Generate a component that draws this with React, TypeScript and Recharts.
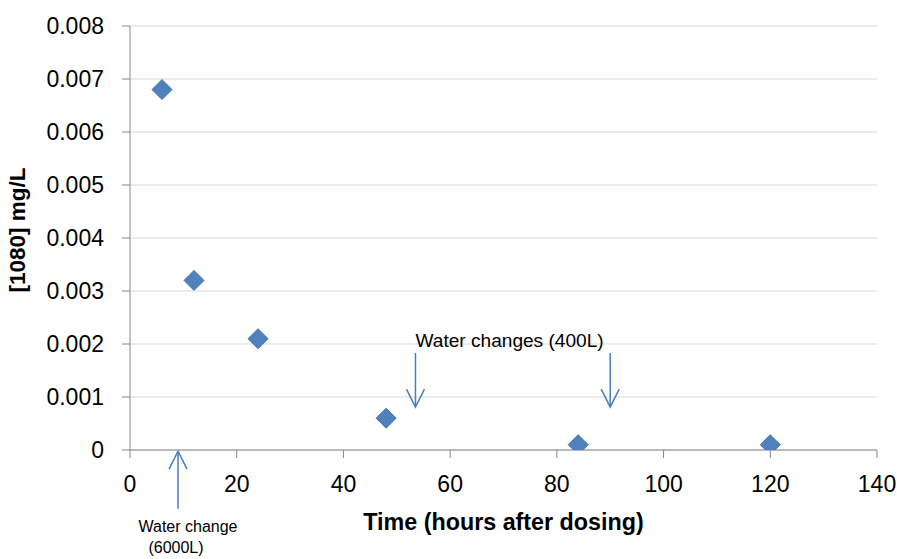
import React from 'react';
import { ScatterChart, Scatter, XAxis, YAxis, CartesianGrid, ReferenceLine, Label } from 'recharts';

const hours = [6, 12, 24, 48, 84, 120];
const concentration = [0.0068, 0.0032, 0.0021, 0.0006, 0.0001, 0.0001];
const xTicks = [0, 20, 40, 60, 80, 100, 120, 140];
const yTicks = [0, 0.001, 0.002, 0.003, 0.004, 0.005, 0.006, 0.007, 0.008];

const bigChangeHour = 9;
const bigChangeLabel = ['Water change', '(6000L)'];
const smallChangeHours = [53.5, 90];
const smallChangeLabel = 'Water changes (400L)';

const data = hours.map((h, i) => ({ x: h, y: concentration[i] }));

const FONT = '"Liberation Sans", Arial, sans-serif';
const ARROW = '#4A7EBB';
const AXIS = '#868686';

const Diamond = (props: any) => {
  const { cx, cy } = props;
  if (cx == null || cy == null) return null;
  const r = 10;
  return (
    <polygon
      points={`${cx},${cy - r} ${cx + r},${cy} ${cx},${cy + r} ${cx - r},${cy}`}
      fill="#4F81BD"
      stroke="#4475B0"
      strokeWidth={1}
    />
  );
};

const DownArrow = (withText: boolean) => (props: any) => {
  const { x1, y1, x2, y2 } = props;
  const tipY = Math.max(y1, y2);
  const topY = Math.min(y1, y2);
  const x = x1;
  return (
    <g>
      <line x1={x} y1={topY} x2={x} y2={tipY} stroke={ARROW} strokeWidth={1.5} />
      <polyline
        points={`${x - 9},${tipY - 18} ${x},${tipY} ${x + 9},${tipY - 18}`}
        fill="none"
        stroke={ARROW}
        strokeWidth={1.5}
      />
      {withText && (
        <text x={x} y={topY - 6} fontFamily={FONT} fontSize={19.1} fill="#000" textAnchor="start">
          {smallChangeLabel}
        </text>
      )}
    </g>
  );
};

const UpArrow = (props: any) => {
  const { x1, y1, x2, y2 } = props;
  const tipY = Math.min(y1, y2);
  const botY = Math.max(y1, y2);
  const x = x1;
  return (
    <g>
      <line x1={x} y1={tipY} x2={x} y2={botY} stroke={ARROW} strokeWidth={1.5} />
      <polyline
        points={`${x - 9},${tipY + 18} ${x},${tipY} ${x + 9},${tipY + 18}`}
        fill="none"
        stroke={ARROW}
        strokeWidth={1.5}
      />
      <text x={x + 10} y={botY + 23} fontFamily={FONT} fontSize={16} fill="#000" textAnchor="middle">
        {bigChangeLabel[0]}
      </text>
      <text x={x - 2} y={botY + 44} fontFamily={FONT} fontSize={16} fill="#000" textAnchor="middle">
        {bigChangeLabel[1]}
      </text>
    </g>
  );
};

const yFmt = (v: number) => (v === 0 ? '0' : v.toFixed(3));

export default function App() {
  return (
    <div style={{ position: 'absolute', left: 0, top: 0, background: '#fff' }}>
      <ScatterChart
        width={897}
        height={559}
        margin={{ top: 26, right: 20, bottom: 0, left: 0 }}
        style={{ fontFamily: FONT }}
      >
        <CartesianGrid vertical={false} stroke="#D9D9D9" strokeWidth={1} />
        <XAxis
          type="number"
          dataKey="x"
          domain={[0, 140]}
          ticks={xTicks}
          interval={0}
          height={109}
          stroke={AXIS}
          tickSize={8}
          tickMargin={18}
          tick={{ fill: '#000', fontSize: 23, fontFamily: FONT }}
          allowDataOverflow
        >
          <Label
            content={(p: any) => {
              const vb = p.viewBox;
              return (
                <text
                  x={vb.x + vb.width / 2}
                  y={530}
                  textAnchor="middle"
                  fontFamily={FONT}
                  fontWeight="bold"
                  fontSize={23.3}
                  fill="#000"
                >
                  Time (hours after dosing)
                </text>
              );
            }}
          />
        </XAxis>
        <YAxis
          type="number"
          dataKey="y"
          domain={[0, 0.008]}
          ticks={yTicks}
          interval={0}
          width={130}
          stroke={AXIS}
          tickSize={8}
          tickMargin={18}
          tickFormatter={yFmt}
          tick={{ fill: '#000', fontSize: 23, fontFamily: FONT }}
          allowDataOverflow
        >
          <Label
            content={(p: any) => {
              const vb = p.viewBox;
              const cy = vb.y + vb.height / 2;
              return (
                <text
                  x={0}
                  y={0}
                  transform={`translate(25, ${cy - 8}) rotate(-90)`}
                  textAnchor="middle"
                  fontFamily={FONT}
                  fontWeight="bold"
                  fontSize={22.5}
                  fill="#000"
                >
                  [1080] mg/L
                </text>
              );
            }}
          />
        </YAxis>
        {smallChangeHours.map((h, i) => (
          <ReferenceLine
            key={h}
            segment={[
              { x: h, y: 0.00183 },
              { x: h, y: 0.00081 },
            ]}
            ifOverflow="visible"
            shape={DownArrow(i === 0)}
          />
        ))}
        <ReferenceLine
          segment={[
            { x: bigChangeHour, y: -0.00002 },
            { x: bigChangeHour, y: -0.00111 },
          ]}
          ifOverflow="visible"
          shape={UpArrow}
        />
        <Scatter data={data} shape={Diamond} isAnimationActive={false} />
      </ScatterChart>
    </div>
  );
}
